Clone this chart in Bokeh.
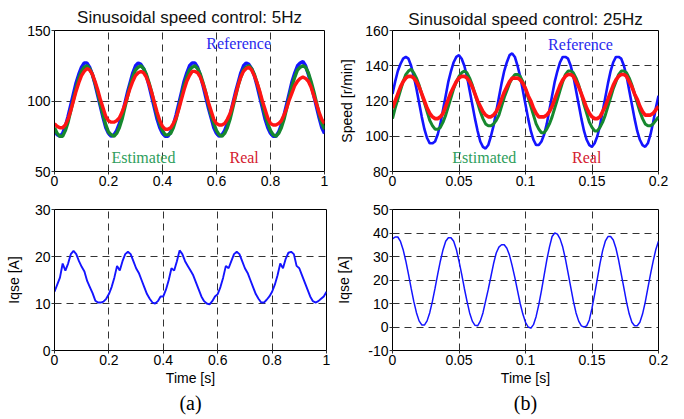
from bokeh.plotting import figure
from bokeh.layouts import column, row
from bokeh.models import FixedTicker, CustomJSTickFormatter, Title, Label
from bokeh.embed import file_html
from bokeh.resources import INLINE

# ---------------- data ----------------
# (a) 5 Hz, time step 0.01 s, 0 .. 1 s
t5 = [i / 100 for i in range(101)]
ref5 = [79, 76, 75, 77, 82, 89, 97, 105, 113, 119, 124, 127, 127, 124, 119, 112, 104, 96, 88, 81,
        77, 75, 76, 79, 84, 90, 98, 106, 113, 120, 125, 127, 126, 123, 118, 111, 103, 95, 87, 81,
        77, 75, 75, 78, 83, 90, 98, 106, 114, 120, 125, 127, 127, 124, 118, 111, 103, 95, 88, 81,
        77, 75, 76, 79, 84, 90, 98, 106, 113, 120, 125, 127, 126, 123, 118, 111, 103, 95, 87, 81,
        77, 75, 75, 78, 83, 90, 98, 106, 114, 120, 125, 127, 128, 125, 119, 112, 104, 96, 88, 81,
        77]
est5 = [81, 77, 75, 75, 79, 85, 93, 101, 109, 116, 121, 124, 125, 123, 119, 113, 106, 98, 90, 83,
        78, 76, 75, 77, 81, 87, 95, 103, 111, 117, 122, 124, 125, 123, 119, 113, 106, 98, 90, 84,
        79, 76, 76, 77, 81, 87, 95, 103, 111, 117, 122, 124, 125, 123, 119, 113, 106, 98, 90, 84,
        79, 76, 75, 77, 81, 87, 95, 103, 111, 117, 122, 124, 125, 123, 119, 113, 106, 98, 90, 84,
        79, 76, 75, 77, 81, 87, 95, 103, 111, 117, 122, 124, 125, 124, 120, 114, 107, 99, 91, 84,
        80]
real5 = [84, 82, 81, 81, 83, 87, 93, 100, 107, 113, 118, 121, 123, 122, 119, 114, 108, 101, 95, 89,
         86, 85, 85, 86, 88, 92, 97, 103, 109, 114, 118, 120, 121, 120, 117, 112, 106, 99, 92, 86,
         82, 80, 80, 81, 84, 88, 94, 101, 108, 114, 118, 121, 121, 120, 117, 112, 106, 99, 93, 87,
         84, 83, 83, 84, 87, 91, 97, 104, 111, 117, 121, 123, 124, 122, 118, 113, 107, 100, 94, 88,
         84, 83, 83, 84, 86, 90, 95, 101, 106, 111, 114, 116, 117, 116, 114, 110, 104, 98, 92, 87,
         84]
iq5 = [12.5, 14, 15.5, 18.5, 17, 18.5, 20.5, 21.2, 20.5, 19, 17.8, 16.8, 14.8, 13.5, 12.2, 10.6, 10.2, 10.2, 10.4, 11,
       12, 13.5, 15.5, 18, 17, 19, 20.5, 21, 20.5, 19, 17.5, 16.5, 15, 13.5, 12, 11, 10.2, 10, 10.5, 11.5,
       11.5, 13, 15, 17.5, 17, 19, 21.3, 20.5, 19, 18, 17, 16, 14.5, 13, 11.5, 10.5, 10, 9.8, 10.5, 11.5,
       12, 13.5, 15.5, 18, 17.5, 19, 20.5, 21, 20.5, 19, 17.5, 16.5, 15, 13.5, 12, 11, 10.2, 10.2, 10.8, 11.5,
       12.5, 14, 16, 18.5, 17.5, 19.5, 20.8, 21, 20.5, 18, 17.5, 16, 14.5, 13, 11.5, 10.5, 10.2, 10.5, 11, 11.5,
       12.5]

# (b) 25 Hz, time step 0.002 s, 0 .. 0.2 s
t25 = [i / 500 for i in range(101)]
ref25 = [124, 131, 137, 141, 144, 145, 144, 140, 134, 127, 119, 111, 104, 99, 96, 96, 97, 101, 107, 115,
         123, 131, 137, 142, 145, 146, 144, 140, 134, 126, 118, 110, 103, 97, 94, 93, 95, 100, 106, 114,
         122, 130, 137, 142, 146, 147, 145, 140, 134, 126, 118, 110, 103, 98, 95, 95, 97, 101, 107, 115,
         123, 131, 137, 142, 145, 145, 144, 140, 134, 126, 118, 110, 103, 98, 95, 94, 96, 100, 106, 114,
         122, 130, 137, 142, 145, 145, 144, 140, 134, 126, 118, 110, 103, 98, 95, 94, 96, 101, 108, 116,
         123]
est25 = [110, 116, 121, 126, 131, 135, 137, 138, 136, 133, 129, 124, 119, 114, 109, 106, 104, 104, 105, 108,
         112, 117, 122, 127, 131, 134, 136, 137, 136, 133, 129, 124, 119, 114, 110, 107, 106, 106, 107, 109,
         112, 117, 122, 126, 130, 133, 135, 135, 134, 131, 127, 122, 117, 112, 107, 104, 102, 102, 104, 107,
         111, 116, 121, 126, 131, 135, 137, 137, 136, 133, 129, 124, 118, 113, 108, 105, 103, 103, 105, 108,
         112, 117, 122, 127, 131, 135, 137, 137, 136, 133, 129, 124, 119, 114, 110, 107, 106, 106, 107, 109,
         111]
real25 = [116, 120, 124, 128, 131, 133, 134, 134, 133, 131, 128, 124, 120, 116, 113, 111, 110, 110, 111, 113,
          117, 121, 125, 128, 131, 133, 134, 134, 133, 131, 128, 124, 120, 117, 114, 112, 111, 111, 112, 114,
          117, 121, 125, 128, 131, 133, 133, 133, 132, 130, 127, 123, 120, 116, 113, 111, 111, 111, 112, 114,
          117, 121, 125, 129, 132, 134, 135, 135, 134, 131, 128, 124, 120, 116, 113, 111, 110, 110, 111, 114,
          117, 121, 125, 129, 132, 134, 135, 135, 134, 131, 128, 124, 121, 117, 114, 112, 112, 112, 113, 115,
          117]
iq25 = [37.5, 38.3, 38.3, 36.4, 32.9, 28.1, 22.5, 16.5, 10.9, 6.1, 2.6, 0.9, 0.8, 2.6, 6.1, 10.9, 16.5, 22.5, 28.1, 32.9,
        36.5, 38, 38, 36.5, 33, 28, 22.5, 16.5, 11, 6, 2.5, 0.7, 0.5, 2.5, 6, 11, 16, 21.5, 27, 31.5,
        34, 35, 35, 33.5, 30.5, 26, 21, 15.5, 10, 5.5, 2, 0, -0.5, 1, 4.5, 9.5, 15.5, 22, 28.5, 34,
        38.5, 40, 39.5, 37.5, 34, 29, 23, 17, 11, 6, 2.5, 0.5, 0, 0.5, 3, 8, 14, 20.5, 27, 32.5,
        36.5, 38.5, 38.5, 37, 33.5, 28.5, 22.5, 16.5, 10.5, 5.5, 2, 0.5, 0.5, 2, 5.5, 10.5, 16.5, 22.5, 28, 33,
        36.5]

xt5 = [0, 0.2, 0.4, 0.6, 0.8, 1]
xt25 = [0, 0.05, 0.1, 0.15, 0.2]
yt_a_top = [50, 100, 150]
yt_b_top = [80, 100, 120, 140, 160]
yt_a_bot = [0, 10, 20, 30]
yt_b_bot = [-10, 0, 10, 20, 30, 40, 50]

# ---------------- styling ----------------
BLUE = "#1414ff"
GREEN = "#16882e"
RED = "#ff1414"
SANS = "Liberation Sans"
SERIF = "Liberation Serif"
fmt = CustomJSTickFormatter(code="return String(tick);")


def style(p, xt, yt):
    p.xaxis.ticker = FixedTicker(ticks=xt)
    p.yaxis.ticker = FixedTicker(ticks=yt)
    p.xgrid.ticker = FixedTicker(ticks=xt[1:-1])
    p.ygrid.ticker = FixedTicker(ticks=yt[1:-1])
    for ax in (p.xaxis, p.yaxis):
        ax.formatter = fmt
        ax.major_label_text_font = SANS
        ax.major_label_text_font_size = "14px"
        ax.major_label_text_color = "black"
        ax.axis_label_text_font = SANS
        ax.axis_label_text_font_size = "14px"
        ax.axis_label_text_font_style = "normal"
        ax.axis_label_text_color = "black"
        ax.major_tick_in = 0
        ax.major_tick_out = 3
        ax.major_tick_line_color = "#333333"
        ax.minor_tick_line_color = None
        ax.axis_line_color = "black"
        ax.major_label_standoff = 1
    for g in (p.xgrid, p.ygrid):
        g.grid_line_color = "#333333"
        g.grid_line_dash = "7 5"
        g.grid_line_width = 1
    p.outline_line_color = "black"
    p.outline_line_alpha = 1
    p.background_fill_color = "white"
    p.border_fill_color = "white"


def mk(w, h, xr, yr, lb, rb, tb, bb):
    p = figure(width=w, height=h, x_range=xr, y_range=yr, output_backend="svg",
               toolbar_location=None, min_border_left=lb, min_border_right=rb,
               min_border_top=tb, min_border_bottom=bb)
    return p


LW, RW = 332, 352

# top-left
p1 = mk(LW, 192, (0, 1), (50, 150), 54, 8, 30, 20)
p1.title.text = "Sinusoidal speed control: 5Hz"
style(p1, xt5, yt_a_top)
p1.line(t5, ref5, color=BLUE, line_width=3.4)
p1.line(t5, est5, color=GREEN, line_width=3.4)
p1.line(t5, real5, color=RED, line_width=3.4)
p1.add_layout(Label(x=0.562, y=140.6, text="Reference", text_color="#2a2aee", text_font=SERIF,
                    text_font_size="16px", text_baseline="middle"))
p1.add_layout(Label(x=0.211, y=59.8, text="Estimated", text_color="#2e9e5c", text_font=SERIF,
                    text_font_size="16px", text_baseline="middle"))
p1.add_layout(Label(x=0.648, y=59.8, text="Real", text_color="#d42030", text_font=SERIF,
                    text_font_size="16px", text_baseline="middle"))

# top-right
p2 = mk(RW, 192, (0, 0.2), (80, 160), 60, 26, 27, 21)
p2.title.text = "Sinusoidal speed control: 25Hz"
style(p2, xt25, yt_b_top)
p2.yaxis.axis_label = "Speed [r/min]"
p2.yaxis.axis_label_standoff = 7
p2.line(t25, ref25, color=BLUE, line_width=2.6)
p2.line(t25, est25, color=GREEN, line_width=3.0)
p2.line(t25, real25, color=RED, line_width=3.6)
p2.add_layout(Label(x=0.117, y=151.8, text="Reference", text_color="#2a2aee", text_font=SERIF,
                    text_font_size="16px", text_baseline="middle"))
p2.add_layout(Label(x=0.045, y=88, text="Estimated", text_color="#2e9e5c", text_font=SERIF,
                    text_font_size="16px", text_baseline="middle"))
p2.add_layout(Label(x=0.135, y=88, text="Real", text_color="#d42030", text_font=SERIF,
                    text_font_size="16px", text_baseline="middle"))

for p, so in ((p1, 7), (p2, 4)):
    p.title.align = "center"
    p.title.text_font = SANS
    p.title.text_font_size = "17px"
    p.title.text_font_style = "normal"
    p.title.text_color = "#111111"
    p.title.standoff = so

# bottom-left
p3 = mk(LW, 227, (0, 1), (0, 30), 54, 6, 17, 68)
style(p3, xt5, yt_a_bot)
p3.yaxis.axis_label = "Iqse [A]"
p3.yaxis.axis_label_standoff = 10
p3.xaxis.axis_label = "Time [s]"
p3.xaxis.axis_label_standoff = 2
p3.line(t5, iq5, color=BLUE, line_width=1.9)

# bottom-right
p4 = mk(RW, 227, (0, 0.2), (-10, 50), 60, 26, 16, 69)
style(p4, xt25, yt_b_bot)
p4.yaxis.axis_label = "Iqse [A]"
p4.yaxis.axis_label_standoff = 13
p4.xaxis.axis_label = "Time [s]"
p4.xaxis.axis_label_standoff = 2
p4.line(t25, iq25, color=BLUE, line_width=1.5)

for p, s in ((p3, "(a)"), (p4, "(b)")):
    p.add_layout(Title(text=s, align="center", text_font=SERIF, text_font_size="20px",
                       text_font_style="normal", text_color="black", standoff=2), "below")

layout = column(row(p1, p2), row(p3, p4))
open("out.html", "w").write(file_html(layout, INLINE))
